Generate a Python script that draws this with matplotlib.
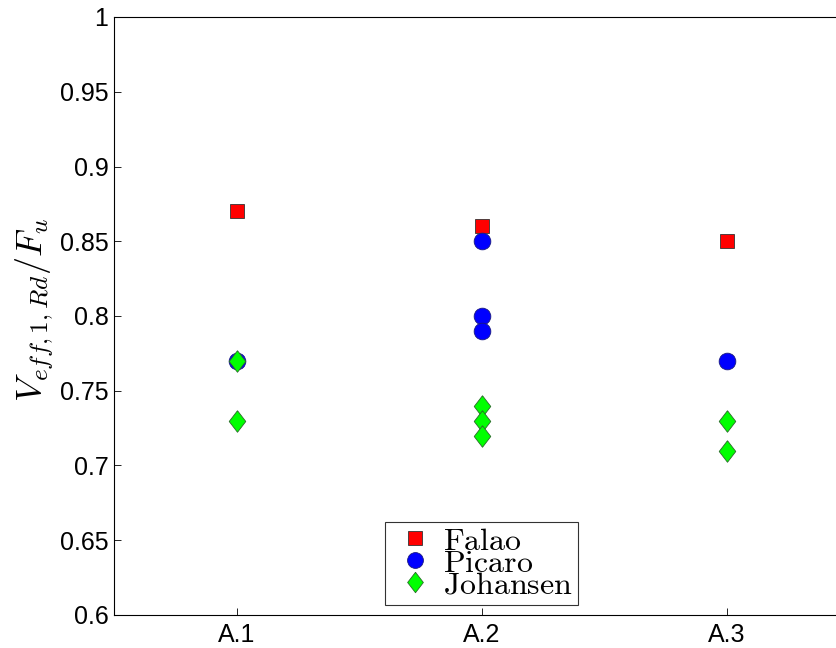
import numpy as np
import matplotlib.pyplot as plt

plt.rcParams['mathtext.fontset'] = 'cm'
plt.rcParams['font.family'] = ['Liberation Sans', 'DejaVu Sans']

# data
cases = ['A.1', 'A.2', 'A.3']
falao_x = [1, 2, 3]
falao_y = [0.87, 0.86, 0.85]
picaro_x = [1, 2, 2, 2, 3]
picaro_y = [0.77, 0.85, 0.80, 0.79, 0.77]
johansen_x = [1, 1, 2, 2, 2, 3, 3]
johansen_y = [0.77, 0.73, 0.74, 0.73, 0.72, 0.73, 0.71]

# matlab style diamond, taller than wide
diamond = [(0, 1), (0.77, 0), (0, -1), (-0.77, 0), (0, 1)]

fig = plt.figure(figsize=(8.36, 6.48), dpi=100)
ax = fig.add_axes([114/836, 33/648, 735/836, 598/648])

ax.plot(falao_x, falao_y, 's', color='red', mec='#333333', mew=0.6, ms=10,
        ls='none', label=r'$\mathrm{Falao}$')
ax.plot(picaro_x, picaro_y, 'o', color='blue', mec='#1a1a80', mew=0.6, ms=12,
        ls='none', label=r'$\mathrm{Picaro}$')
ax.plot(johansen_x, johansen_y, marker=diamond, color='#00ff00', mec='#2a6a2a', mew=0.6,
        ms=15.5, ls='none', label=r'$\mathrm{Johansen}$')

ax.set_xlim(0.5, 3.5)
ax.set_ylim(0.6, 1.0)
ax.set_xticks([1, 2, 3])
ax.set_xticklabels(cases)
ax.set_yticks(np.arange(0.6, 1.0001, 0.05))
ax.set_yticklabels(['0.6', '0.65', '0.7', '0.75', '0.8', '0.85', '0.9', '0.95', '1'])
ax.tick_params(direction='in', length=5, width=0.6, labelsize=18, top=False, right=False)
ax.tick_params(axis='x', pad=6)
ax.tick_params(axis='y', pad=4)
for s in ax.spines.values():
    s.set_linewidth(0.8)

ax.set_ylabel(r'$V_{eff,1,Rd}/F_u$', fontsize=26)
ax.yaxis.set_label_coords(-58/735, 0.51)

# tight rows like the original legend
leg = ax.legend(loc='lower center', bbox_to_anchor=(0.5, 0.0),
                fontsize=23, frameon=True, fancybox=False, borderpad=0.15,
                labelspacing=-0.25, handletextpad=0.1, handlelength=1.55,
                borderaxespad=0.3, markerscale=0.95)
leg.get_frame().set_edgecolor('black')
leg.get_frame().set_linewidth(0.8)

fig.savefig('out.png', dpi=100)
